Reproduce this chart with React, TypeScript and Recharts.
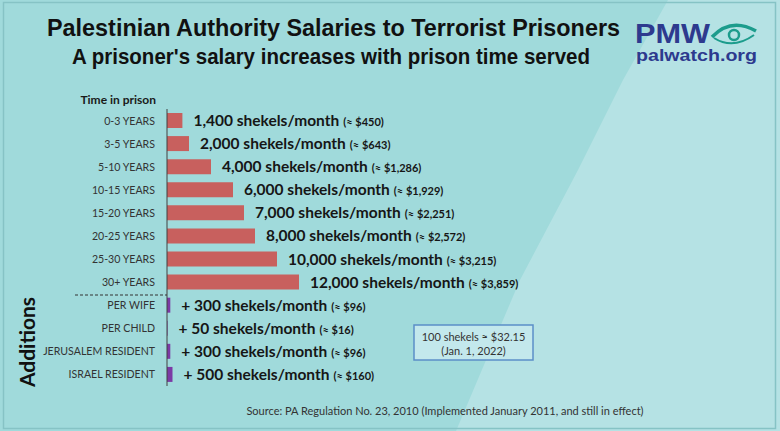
import { BarChart, Bar, XAxis, YAxis, CartesianGrid, LabelList, Cell } from "recharts";

const timeCategories = ["0-3 YEARS", "3-5 YEARS", "5-10 YEARS", "10-15 YEARS", "15-20 YEARS", "20-25 YEARS", "25-30 YEARS", "30+ YEARS"];
const salaries = [1400, 2000, 4000, 6000, 7000, 8000, 10000, 12000];
const salaryUsd = ["$450", "$643", "$1,286", "$1,929", "$2,251", "$2,572", "$3,215", "$3,859"];

const additionCategories = ["PER WIFE", "PER CHILD", "JERUSALEM RESIDENT", "ISRAEL RESIDENT"];
const additions = [300, 50, 300, 500];
const additionUsd = ["$96", "$16", "$96", "$160"];

const xTicks = [0, 5000, 10000];

const data = [
  ...timeCategories.map((c, i) => ({ category: c, value: salaries[i], usd: salaryUsd[i], extra: false })),
  ...additionCategories.map((c, i) => ({ category: c, value: additions[i], usd: additionUsd[i], extra: true })),
];

const LABEL_FONT = "Lato, 'Open Sans', sans-serif";
const TITLE_FONT = "'Liberation Sans', Arial, sans-serif";

function ValueLabel(props: any) {
  const { x, y, width, height, index } = props;
  const row = data[index];
  if (!row) return null;
  const text = row.extra ? `+ ${row.value} shekels/month` : `${row.value.toLocaleString("en-US")} shekels/month`;
  return (
    <text x={x + width + 11} y={y + height / 2 + 5.5} fill="#161616" fontFamily={LABEL_FONT} fontWeight={700} fontSize={15.5}>
      {text}
      <tspan fontSize={11} dx={4}>{`(≈ ${row.usd})`}</tspan>
    </text>
  );
}

function CategoryTick(props: any) {
  const { x, y, payload } = props;
  return (
    <text x={x} y={y + 4} textAnchor="end" fill="#333" fontSize={10.6} fontFamily={LABEL_FONT}>
      {payload.value}
    </text>
  );
}

function Background() {
  return (
    <svg width={780} height={431} style={{ position: "absolute", left: 0, top: 0 }}>
      <rect x={0} y={0} width={780} height={431} fill="#a0dadb" />
      <polygon points="668,0 623,80 578,170 520,280 456,431 780,431 780,0" fill="#b5e2e4" />
      <rect x={3.5} y={2.5} width={772} height={426} fill="none" stroke="#86c3c5" strokeWidth={1.5} />
    </svg>
  );
}

function Overlay() {
  return (
    <svg width={780} height={431} style={{ position: "absolute", left: 0, top: 0, pointerEvents: "none" }}>
      <text x={47} y={36} fontFamily={TITLE_FONT} fontWeight={700} fontSize={24} fill="#111" textLength={573} lengthAdjust="spacingAndGlyphs">
        Palestinian Authority Salaries to Terrorist Prisoners
      </text>
      <text x={72} y={64} fontFamily={TITLE_FONT} fontWeight={700} fontSize={22} fill="#111" textLength={518} lengthAdjust="spacingAndGlyphs">
        A prisoner's salary increases with prison time served
      </text>

      {/* logo */}
      <text x={635} y={43} fontFamily={TITLE_FONT} fontWeight={700} fontSize={27} fill="#2d3a8e" textLength={75} lengthAdjust="spacingAndGlyphs">
        PMW
      </text>
      <path d="M712,37 Q731,17 756,31" fill="none" stroke="#1c9c8c" strokeWidth={3.5} />
      <path d="M714,38 Q733,50 754,35" fill="none" stroke="#1c9c8c" strokeWidth={2} />
      <circle cx={734} cy={35} r={5} fill="none" stroke="#1c9c8c" strokeWidth={2.5} />
      <text x={636} y={61} fontFamily={TITLE_FONT} fontWeight={700} fontSize={17} fill="#2d3a8e" textLength={121} lengthAdjust="spacingAndGlyphs">
        palwatch.org
      </text>

      <text x={156} y={104} textAnchor="end" fontFamily={LABEL_FONT} fontWeight={700} fontSize={12} fill="#1a1a1a">
        Time in prison
      </text>
      <line x1={75} y1={295} x2={167} y2={295} stroke="#333" strokeDasharray="3 2" />
      <text x={0} y={0} transform="translate(35,342) rotate(-90)" textAnchor="middle" fontFamily={LABEL_FONT} fontWeight={700} fontSize={21} fill="#111">
        Additions
      </text>

      <rect x={414} y={325} width={119} height={35} fill="#c3e8ec" stroke="#5b8fc8" strokeWidth={1.5} />
      <text x={473.5} y={341} textAnchor="middle" fontFamily={LABEL_FONT} fontSize={11} fill="#333">
        100 shekels ≈ $32.15
      </text>
      <text x={473.5} y={355} textAnchor="middle" fontFamily={LABEL_FONT} fontSize={11} fill="#333">
        (Jan. 1, 2022)
      </text>

      <text x={445} y={415} textAnchor="middle" fontFamily={LABEL_FONT} fontSize={11} fill="#333">
        Source: PA Regulation No. 23, 2010 (Implemented January 2011, and still in effect)
      </text>
    </svg>
  );
}

export default function App() {
  return (
    <div style={{ position: "absolute", left: 0, top: 0, width: 780, height: 431, overflow: "hidden" }}>
      <Background />
      <div style={{ position: "absolute", left: 0, top: 0 }}>
        <BarChart
          width={780}
          height={431}
          data={data}
          layout="vertical"
          margin={{ top: 109, right: 448, bottom: 45, left: 0 }}
          barSize={15}
        >
          <CartesianGrid horizontal={false} stroke="#7cb8ba" verticalValues={xTicks} />
          <XAxis type="number" domain={[0, 15000]} ticks={xTicks} height={0} tick={false} axisLine={false} tickLine={false} />
          <YAxis
            type="category"
            dataKey="category"
            width={167}
            axisLine={{ stroke: "#404040" }}
            tickLine={false}
            tickMargin={6}
            interval={0}
            tick={<CategoryTick />}
          />
          <Bar dataKey="value" isAnimationActive={false}>
            {data.map((d, i) => (
              <Cell key={i} fill={d.extra ? "#7b3aa5" : "#c8605e"} />
            ))}
            <LabelList dataKey="value" content={<ValueLabel />} />
          </Bar>
        </BarChart>
      </div>
      <Overlay />
    </div>
  );
}
